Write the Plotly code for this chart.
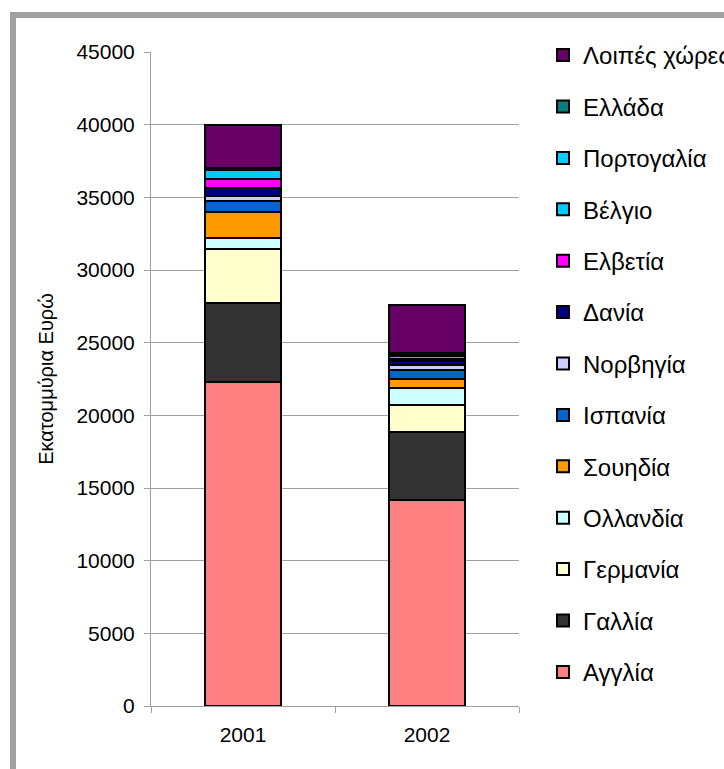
import plotly.graph_objects as go

# Yearly values (million euros), stacked bottom to top
years = ["2001", "2002"]
england = [22300, 14200]
france = [5450, 4650]
germany = [3720, 1850]
netherlands = [730, 1180]
sweden = [1790, 600]
spain = [740, 620]
norway = [340, 330]
denmark = [550, 330]
switzerland = [640, 150]
belgium = [620, 160]
portugal = [90, 120]
greece = [50, 80]
others = [2980, 3300]

series = [
    ("Αγγλία", england, "#FF8080"),
    ("Γαλλία", france, "#333333"),
    ("Γερμανία", germany, "#FFFFCC"),
    ("Ολλανδία", netherlands, "#CCFFFF"),
    ("Σουηδία", sweden, "#FF9900"),
    ("Ισπανία", spain, "#0066CC"),
    ("Νορβηγία", norway, "#CCCCFF"),
    ("Δανία", denmark, "#000080"),
    ("Ελβετία", switzerland, "#FF00FF"),
    ("Βέλγιο", belgium, "#00CCFF"),
    ("Πορτογαλία", portugal, "#00CCFF"),
    ("Ελλάδα", greece, "#008080"),
    ("Λοιπές χώρες", others, "#660066"),
]

FONT = "Liberation Sans, Arial, sans-serif"

fig = go.Figure()
n = len(series)
for i, (name, vals, color) in enumerate(series):
    fig.add_trace(go.Bar(
        x=years, y=vals, name=name,
        legendgroup=f"g{i}",
        legendrank=n - i,  # top of the stack listed first
        marker=dict(color=color, line=dict(color="#000000", width=2)),
    ))

# plot area geometry in pixels
L, R, T, B = 151, 519, 52, 706
W, H = R - L, B - T

def px_x(p):
    return (p - L) / W

def px_y(p):
    return (B - p) / H

fig.update_layout(
    width=724, height=769,
    barmode="stack", bargap=0.587,
    paper_bgcolor="white", plot_bgcolor="white",
    margin=dict(l=L, r=724 - R, t=T, b=769 - B, autoexpand=False),
    font=dict(family=FONT, color="#000000", size=21),
    showlegend=True,
    legend=dict(
        tracegroupgap=17.2,
        x=px_x(543), xanchor="left",
        y=px_y(33), yanchor="top",
        maxheight=740,
        font=dict(size=24, family=FONT),
        bgcolor="rgba(0,0,0,0)",
        borderwidth=0,
    ),
    xaxis=dict(
        type="category",
        showline=True, linecolor="#A0A0A0", linewidth=1,
        ticks="outside", tickson="boundaries", ticklen=6, tickcolor="#A0A0A0",
        showgrid=False, zeroline=False,
        tickfont=dict(size=21),
        ticklabelstandoff=10,
    ),
    yaxis=dict(
        range=[0, 45000], dtick=5000, tick0=0, tickformat="d",
        showline=True, linecolor="#A0A0A0", linewidth=1,
        ticks="outside", ticklen=6, tickcolor="#A0A0A0",
        showgrid=True, gridcolor="#A0A0A0", gridwidth=1,
        zeroline=False,
        tickfont=dict(size=21),
        ticklabelstandoff=5,
        title=dict(text="Εκατομμύρια Ευρώ", font=dict(size=20), standoff=17),
    ),
    shapes=[dict(
        type="rect", xref="paper", yref="paper",
        x0=px_x(13), x1=px_x(780), y0=px_y(820), y1=px_y(15),
        line=dict(color="#A0A0A0", width=6), fillcolor="rgba(0,0,0,0)",
        layer="above",
    )],
)

fig.write_html("out.html")
